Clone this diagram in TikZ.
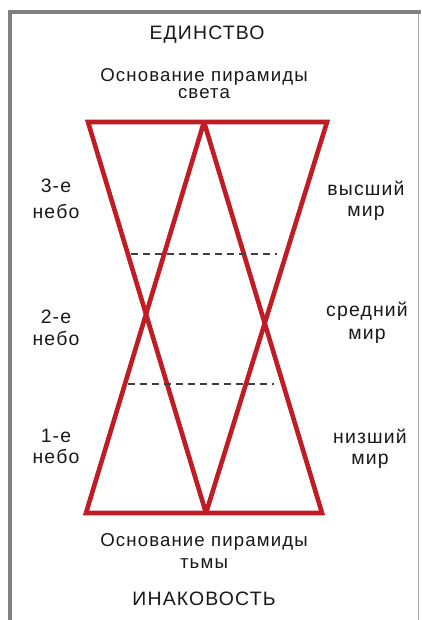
\documentclass[tikz,border=0pt]{standalone}
\usepackage{fontspec}
\setmainfont{Liberation Sans}[LetterSpace=6]
\definecolor{pyrred}{RGB}{192,28,36}
\definecolor{framegray}{RGB}{128,128,128}
\definecolor{txt}{RGB}{25,25,25}
\begin{document}
\begin{tikzpicture}[x=1bp,y=-1bp,
  lbl/.style={inner sep=0pt,anchor=base,text=txt,font=\fontsize{19.5}{21}\selectfont},
  base/.style={lbl,font=\fontsize{18.7}{21}\selectfont},
  pyr/.style={draw=pyrred,line width=4.6bp,line join=miter,miter limit=2},
  lvl/.style={draw=black!75,line width=1.3bp,dash pattern=on 7bp off 5bp}]
\useasboundingbox (0,0) rectangle (421,620);
\fill[white] (0,0) rectangle (421,620);
% frame
\fill[framegray] (8,10) rectangle (421,14);
\fill[framegray] (8,10) rectangle (12,620);
\fill[black!35] (417.5,14) rectangle (419,620);
% pyramids
\coordinate (TL) at (88,122);
\coordinate (TM) at (204,122);
\coordinate (TR) at (327,122);
\coordinate (BL) at (86,513);
\coordinate (BM) at (206,513);
\coordinate (BR) at (322,513);
\draw[pyr] (TL) -- (TR) -- (BM) -- cycle;
\draw[pyr] (BL) -- (BR) -- (TM) -- cycle;
% levels
\coordinate (D1a) at (131,254);
\coordinate (D1b) at (277,254);
\coordinate (D2a) at (128,384);
\coordinate (D2b) at (274,384);
\draw[lvl] (D1a) -- (D1b);
\draw[lvl] (D2a) -- (D2b);
% texts
\node[lbl] (unity) at (207,39.5) {ЕДИНСТВО};
\node[base] (lighta) at (204,82) {Основание пирамиды};
\node[base] (lightb) at (204,99) {света};
\node[base] (darka) at (204,546) {Основание пирамиды};
\node[base] (darkb) at (204,568) {тьмы};
\node[lbl] (other) at (204,605) {ИНАКОВОСТЬ};
\node[lbl] (h3a) at (56,192) {3-е};
\node[lbl] (h3b) at (56,218) {небо};
\node[lbl] (h2a) at (56,323) {2-е};
\node[lbl] (h2b) at (56,345) {небо};
\node[lbl] (h1a) at (56,442) {1-е};
\node[lbl] (h1b) at (56,463) {небо};
\node[lbl] (w3a) at (366,195) {высший};
\node[lbl] (w3b) at (366,216) {мир};
\node[lbl] (w2a) at (367,316) {средний};
\node[lbl] (w2b) at (367,339) {мир};
\node[lbl] (w1a) at (370,443) {низший};
\node[lbl] (w1b) at (370,464) {мир};
\end{tikzpicture}
\end{document}
